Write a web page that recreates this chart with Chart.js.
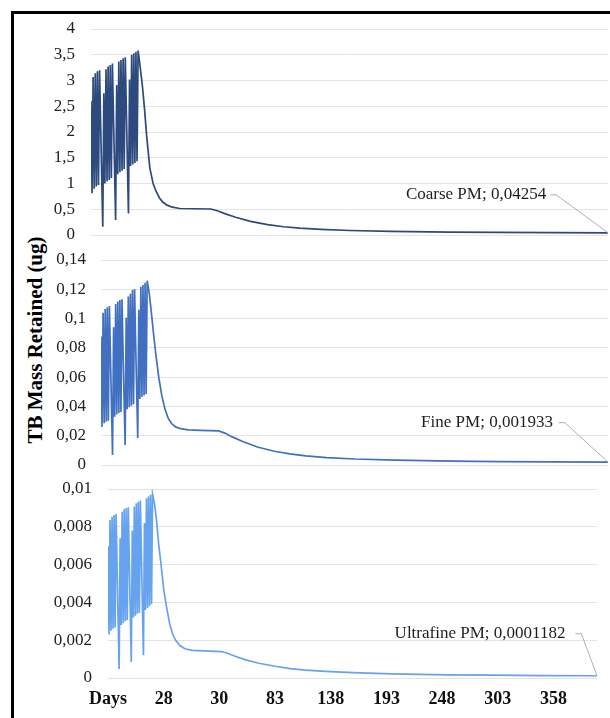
<!DOCTYPE html>
<html>
<head>
<meta charset="utf-8">
<script src="https://cdn.jsdelivr.net/npm/chart.js@4.4.1/dist/chart.umd.min.js"></script>
<style>
  html, body { margin: 0; padding: 0; background: #fff; width: 610px; height: 718px; overflow: hidden; }
  .frame { position: absolute; left: 11px; top: 11px; width: 720px; height: 820px;
           border-left: 3px solid #000; border-top: 3px solid #000; }
  canvas { position: absolute; left: 0; }
  #yTitle { position: absolute; left: 35px; top: 340px; transform: translate(-50%, -50%) rotate(-90deg);
            font: bold 21px "Liberation Serif", "Times New Roman", serif; white-space: nowrap; color: #000; }
</style>
</head>
<body>
<div class="frame"></div>
<div id="yTitle">TB Mass Retained (ug)</div>
<canvas id="cCoarse" width="610" height="230" style="top:17px"></canvas>
<canvas id="cFine" width="610" height="229" style="top:248px"></canvas>
<canvas id="cUltra" width="610" height="241" style="top:477px"></canvas>
<script>
// Time steps (shared by the three particle classes)
const steps = [
  0, 1, 2, 3, 4, 5, 6, 7, 8, 9, 10, 11,
  12, 13, 14, 15, 16, 17, 18, 19, 20, 21, 22, 23,
  24, 25, 26, 27, 28, 29, 30, 31, 32, 33, 34, 35,
  36, 37, 38, 39, 40, 41, 42, 43, 44,
  46, 48, 50, 52, 55, 58, 61, 64, 67, 71, 76, 83, 95, 112,
  118, 125, 135, 149, 165, 180, 195, 215, 242, 280, 335, 380, 430, 483
];

// Category labels shown under the bottom panel and the steps they sit on
const dayLabels = ['Days', '28', '30', '83', '138', '193', '248', '303', '358'];
const labelSteps = [0, 55, 110, 165, 220, 275, 330, 385, 440];

// TB mass retained (ug)
const coarsePM = [
  2.6, 0.81, 3.07, 0.9, 3.14, 0.94, 3.18, 0.97, 3.2, 2.15, 1.15, 0.16,
  2.75, 1.0, 3.22, 1.04, 3.27, 1.07, 3.3, 1.1, 3.33, 2.3, 1.3, 0.29,
  2.91, 1.18, 3.37, 1.22, 3.4, 1.25, 3.43, 1.28, 3.45, 2.45, 1.4, 0.42,
  3.02, 1.34, 3.5, 1.37, 3.53, 1.4, 3.56, 1.43, 3.58,
  3.25, 2.9, 2.45, 1.92, 1.3, 1.0, 0.84, 0.72, 0.64, 0.58, 0.54, 0.515, 0.51, 0.505,
  0.47, 0.415, 0.345, 0.265, 0.2, 0.16, 0.132, 0.108, 0.087, 0.071, 0.057, 0.051, 0.046, 0.04254
];
const finePM = [
  0.0877, 0.026, 0.104, 0.0285, 0.1065, 0.0295, 0.1078, 0.0302, 0.1086, 0.074, 0.04, 0.0068,
  0.094, 0.033, 0.11, 0.0345, 0.1116, 0.0355, 0.1127, 0.0362, 0.1132, 0.078, 0.045, 0.0137,
  0.1006, 0.038, 0.115, 0.0395, 0.117, 0.0405, 0.1195, 0.0415, 0.12, 0.083, 0.05, 0.0184,
  0.106, 0.045, 0.1218, 0.0465, 0.123, 0.0475, 0.1245, 0.0485, 0.1259,
  0.117, 0.104, 0.09, 0.077, 0.06, 0.047, 0.038, 0.032, 0.0285, 0.026, 0.0248, 0.024, 0.0236, 0.0233,
  0.0218, 0.0192, 0.016, 0.0123, 0.0094, 0.0076, 0.0062, 0.0051, 0.0041, 0.0033, 0.0026, 0.0023, 0.0021, 0.001933
];
const ultrafinePM = [
  0.00697, 0.0023, 0.00836, 0.0025, 0.00853, 0.0026, 0.00862, 0.00267, 0.00868, 0.0058, 0.0031, 0.00048,
  0.0074, 0.0028, 0.0088, 0.0029, 0.00893, 0.003, 0.009, 0.00305, 0.00903, 0.0062, 0.0035, 0.00085,
  0.0078, 0.0032, 0.00907, 0.0033, 0.00925, 0.0034, 0.00933, 0.00345, 0.00939, 0.0065, 0.0038, 0.0012,
  0.0082, 0.0036, 0.00951, 0.0037, 0.0096, 0.0038, 0.00969, 0.0039, 0.00974,
  0.0092, 0.0083, 0.0071, 0.0062, 0.0047, 0.0037, 0.00285, 0.0023, 0.00198, 0.00172, 0.00155, 0.00146, 0.00143, 0.0014,
  0.00131, 0.00116, 0.00097, 0.00078, 0.00062, 0.0005, 0.00042, 0.00035, 0.00028, 0.00022, 0.00017, 0.00015, 0.00013, 0.0001182
];

const SERIF = '"Liberation Serif", "Times New Roman", serif';
Chart.defaults.font.family = SERIF;

// decimal comma, as in the axis and label texts
function fmt(v) {
  return String(Number(v.toFixed(8))).replace('.', ',');
}

// "<series>; <last value>" label with a thin leader line to the last point
const endLabel = {
  id: 'endLabel',
  afterDatasetsDraw(chart, args, opts) {
    const meta = chart.getDatasetMeta(0);
    const pt = meta.data[meta.data.length - 1];
    const ds = chart.data.datasets[0];
    const text = ds.label + '; ' + fmt(ds.data[ds.data.length - 1].y);
    const ctx = chart.ctx;
    ctx.save();
    ctx.font = '17px ' + SERIF;
    const w = ctx.measureText(text).width;
    const cx = pt.x + opts.dx, cy = pt.y + opts.dy;
    ctx.fillStyle = '#1e1e1e';
    ctx.textAlign = 'center';
    ctx.textBaseline = 'middle';
    ctx.fillText(text, cx, cy);
    ctx.strokeStyle = '#b0b0b0';
    ctx.lineWidth = 1;
    ctx.beginPath();
    ctx.moveTo(cx + w / 2 + opts.gap, cy);
    ctx.lineTo(cx + w / 2 + opts.gap + 6, cy);
    ctx.lineTo(pt.x, pt.y);
    ctx.stroke();
    ctx.restore();
  }
};

function panel(id, label, values, color, cfg) {
  const xScale = {
    type: 'linear',
    min: steps[0],
    max: steps[steps.length - 1],
    display: cfg.showX,
    grid: { display: false, drawTicks: false },
    border: { display: false }
  };
  if (cfg.showX) {
    xScale.afterBuildTicks = s => { s.ticks = labelSteps.map(v => ({ value: v })); };
    xScale.afterFit = s => { s.height = 35; s.paddingLeft = 0; s.paddingRight = 0; };
    xScale.ticks = {
      autoSkip: false, maxRotation: 0, padding: 11,
      color: '#111',
      font: { family: SERIF, size: 18, weight: 'bold' },
      callback: v => dayLabels[labelSteps.indexOf(v)]
    };
  }
  return new Chart(document.getElementById(id), {
    type: 'line',
    data: {
      datasets: [{
        label: label,
        data: steps.map((s, i) => ({ x: s, y: values[i] })),
        borderColor: color,
        borderWidth: 1.7,
        pointRadius: 0,
        tension: 0,
        fill: false
      }]
    },
    options: {
      responsive: false,
      devicePixelRatio: 1,
      animation: false,
      layout: { padding: { top: 12, bottom: cfg.padBottom, left: 0, right: cfg.padRight } },
      plugins: {
        legend: { display: false },
        tooltip: { enabled: false },
        endLabel: cfg.label
      },
      scales: {
        x: xScale,
        y: {
          min: 0,
          max: cfg.yMax,
          // fixed label column width; vertical room comes from the layout padding
          afterFit: s => { s.width = cfg.left; s.paddingTop = 0; s.paddingBottom = 0; },
          ticks: {
            stepSize: cfg.step,
            padding: cfg.tickPad,
            color: '#222',
            font: { family: SERIF, size: 17 },
            callback: v => fmt(v)
          },
          grid: { color: '#e4e4e4', lineWidth: 1, drawTicks: false },
          border: { display: false }
        }
      }
    },
    plugins: [endLabel]
  });
}

panel('cCoarse', 'Coarse PM', coarsePM, '#2c4a7e', {
  yMax: 4, step: 0.5, left: 91, tickPad: 16, padRight: 2, padBottom: 12, showX: false,
  label: { dx: -132, dy: -38, gap: 4 }
});
panel('cFine', 'Fine PM', finePM, '#4270c0', {
  yMax: 0.14, step: 0.02, left: 101, tickPad: 15, padRight: 2, padBottom: 12, showX: false,
  label: { dx: -121, dy: -39.5, gap: 6 }
});
panel('cUltra', 'Ultrafine PM', ultrafinePM, '#67a2ee', {
  yMax: 0.01, step: 0.002, left: 108, tickPad: 16, padRight: 13, padBottom: 5, showX: true,
  label: { dx: -117, dy: -42, gap: 10 }
});
</script>
</body>
</html>
